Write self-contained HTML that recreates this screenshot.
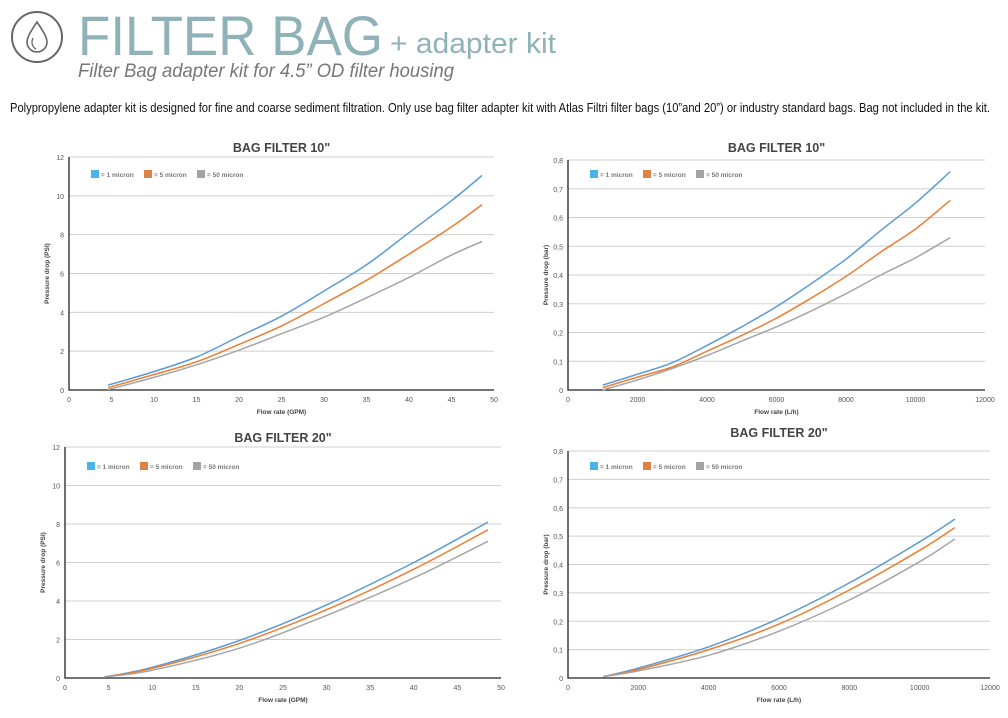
<!DOCTYPE html>
<html><head><meta charset="utf-8"><style>
html,body{margin:0;padding:0;background:#fff;}
svg{display:block;font-family:"Liberation Sans",sans-serif;}
</style></head><body>
<svg id="s" width="1008" height="718" viewBox="0 0 1008 718" xmlns="http://www.w3.org/2000/svg">
<g>
<circle cx="37" cy="37" r="25" fill="none" stroke="#666" stroke-width="2"/>
<path d="M37 22 C31 31 27 37 27 42 A10 10 0 0 0 47 42 C47 37 43 31 37 22 Z" fill="none" stroke="#666" stroke-width="1.6"/>
<path d="M33 38 C31 42 32 47 36 49" fill="none" stroke="#666" stroke-width="1.3"/>
</g>
<text x="78" y="55" font-size="56" fill="#8fb2b9" textLength="305" lengthAdjust="spacingAndGlyphs">FILTER BAG</text>
<text x="390" y="53" font-size="29" fill="#8fb2b9" textLength="166" lengthAdjust="spacingAndGlyphs">+ adapter kit</text>
<text x="78" y="77" font-size="19" font-style="italic" fill="#777" textLength="376" lengthAdjust="spacingAndGlyphs">Filter Bag adapter kit for 4.5” OD filter housing</text>
<text x="10" y="112" font-size="13" fill="#111" textLength="980" lengthAdjust="spacingAndGlyphs">Polypropylene adapter kit is designed for fine and coarse sediment filtration. Only use bag filter adapter kit with Atlas Filtri filter bags (10”and 20”) or industry standard bags. Bag not included in the kit.</text>
<g id="charts"></g>
</svg>
<script>
// Chart 1: 10" GPM
const c1x=[4.6,10,15,20,25,30,35,40,45,48.6];
const c1blue=[0.25,0.95,1.7,2.75,3.8,5.1,6.45,8.1,9.75,11.05];
const c1orange=[0.12,0.8,1.45,2.35,3.3,4.45,5.65,7.0,8.4,9.55];
const c1gray=[0.02,0.65,1.3,2.05,2.9,3.75,4.75,5.8,6.95,7.65];
// Chart 2: 10" L/h
const c2x=[1000,2000,3000,4000,5000,6000,7000,8000,9000,10000,11000];
const c2blue=[0.017,0.055,0.095,0.155,0.22,0.29,0.37,0.455,0.555,0.65,0.76];
const c2orange=[0.008,0.045,0.08,0.135,0.19,0.25,0.32,0.395,0.48,0.56,0.66];
const c2gray=[0.0,0.035,0.075,0.12,0.17,0.22,0.275,0.335,0.4,0.46,0.53];
// Chart 3: 20" GPM
const c3x=[4.5,10,20,30,40,48.5];
const c3blue=[0.05,0.55,1.95,3.8,6.0,8.1];
const c3orange=[0.05,0.5,1.8,3.55,5.65,7.7];
const c3gray=[0.05,0.4,1.55,3.25,5.2,7.1];
// Chart 4: 20" L/h
const c4x=[1000,2000,4000,6000,8000,10000,11000];
const c4blue=[0.005,0.035,0.11,0.21,0.335,0.48,0.56];
const c4orange=[0.005,0.03,0.10,0.19,0.31,0.45,0.53];
const c4gray=[0.005,0.025,0.08,0.165,0.275,0.41,0.49];
const gpmTicks=[0,5,10,15,20,25,30,35,40,45,50];
const psiTicks=[0,2,4,6,8,10,12];
const lhTicks=[0,2000,4000,6000,8000,10000,12000];
const barTicks=[0,0.1,0.2,0.3,0.4,0.5,0.6,0.7,0.8];
const seriesNames=["= 1 micron","= 5 micron","= 50 micron"];
const NS="http://www.w3.org/2000/svg";
const root=document.getElementById('charts');
function mk(tag,attrs,parent,text){const e=document.createElementNS(NS,tag);for(const k in attrs)e.setAttribute(k,attrs[k]);if(text!==undefined)e.textContent=text;parent.appendChild(e);return e;}
function path(pts){let d='M'+pts[0][0].toFixed(1)+' '+pts[0][1].toFixed(1);for(let i=0;i<pts.length-1;i++){const p0=pts[i-1]||pts[i],p1=pts[i],p2=pts[i+1],p3=pts[i+2]||p2;const a=[p1[0]+(p2[0]-p0[0])/6,p1[1]+(p2[1]-p0[1])/6],b=[p2[0]-(p3[0]-p1[0])/6,p2[1]-(p3[1]-p1[1])/6];d+=' C'+a[0].toFixed(1)+' '+a[1].toFixed(1)+' '+b[0].toFixed(1)+' '+b[1].toFixed(1)+' '+p2[0].toFixed(1)+' '+p2[1].toFixed(1);}return d;}
function chart(o){
 const g=mk('g',{},root);
 
 
 const xmax=o.xt[o.xt.length-1],ymax=o.yt[o.yt.length-1];
 const X=v=>o.x0+(o.x1-o.x0)*v/xmax, Y=v=>o.y0-(o.y0-o.y1)*v/ymax;
 o.yt.forEach((t,i)=>{ if(i>0){const l=mk('line',{x1:o.x0,x2:o.x1,y1:Y(t),y2:Y(t),stroke:'#cfcfcf','stroke-width':1},g);}
  const tx=mk('text',{x:o.x0-5,y:Y(t)+3,'font-size':7,fill:'#555','text-anchor':'end'},g,o.yf(t));});
 o.xt.forEach(t=>{const tx=mk('text',{x:X(t),y:o.y0+12,'font-size':7,fill:'#555','text-anchor':'middle'},g,String(t));});
 const ax=mk('path',{d:`M${o.x0} ${o.y1} V${o.y0} H${o.x1}`,fill:'none',stroke:'#222','stroke-width':1.3},g);
 const cols=['#5b9bd5','#ed7d31','#a5a5a5'];
 o.s.forEach((ys,i)=>{const p=mk('path',{d:path(o.x.map((v,j)=>[X(v),Y(ys[j])])),fill:'none',stroke:cols[i],'stroke-width':1.5},g);});
 const t=mk('text',{x:(o.x0+o.x1)/2,y:o.ty,'font-size':12.5,'font-weight':'bold',fill:'#444','text-anchor':'middle'},g,o.title);
 const xt=mk('text',{x:(o.x0+o.x1)/2,y:o.y0+24,'font-size':6.5,'font-weight':'bold',fill:'#444','text-anchor':'middle'},g,o.xl);
 const yx=o.x0-20,yy=(o.y0+o.y1)/2;
 const yt=mk('text',{x:yx,y:yy,'font-size':6.5,'font-weight':'bold',fill:'#444','text-anchor':'middle',transform:`rotate(-90 ${yx} ${yy})`},g,o.yl);
 const lc=['#4ab3e8','#dd8347','#a3a3a3'];
 seriesNames.forEach((n,i)=>{const lx=o.x0+22+i*53,ly=o.ly;const lg=mk('g',{},g);
  mk('rect',{x:lx,y:ly,width:8,height:8,fill:lc[i]},lg);mk('text',{x:lx+10,y:ly+7,'font-size':6.5,'font-weight':'bold',fill:'#777'},lg,n);});
}
const fc=v=>String(v).replace('.',',');
chart({name:'chart-10in-gpm',x0:69,x1:494,y0:390,y1:157,ty:152,ly:170,x:c1x,s:[c1blue,c1orange,c1gray],xt:gpmTicks,yt:psiTicks,yf:String,title:'BAG FILTER 10"',xl:'Flow rate (GPM)',yl:'Pressure drop (PSI)'});
chart({name:'chart-10in-lh',x0:568,x1:985,y0:390,y1:160,ty:152,ly:170,x:c2x,s:[c2blue,c2orange,c2gray],xt:lhTicks,yt:barTicks,yf:fc,title:'BAG FILTER 10"',xl:'Flow rate (L/h)',yl:'Pressure drop (bar)'});
chart({name:'chart-20in-gpm',x0:65,x1:501,y0:678,y1:447,ty:442,ly:462,x:c3x,s:[c3blue,c3orange,c3gray],xt:gpmTicks,yt:psiTicks,yf:String,title:'BAG FILTER 20"',xl:'Flow rate (GPM)',yl:'Pressure drop (PSI)'});
chart({name:'chart-20in-lh',x0:568,x1:990,y0:678,y1:451,ty:437,ly:462,x:c4x,s:[c4blue,c4orange,c4gray],xt:lhTicks,yt:barTicks,yf:fc,title:'BAG FILTER 20"',xl:'Flow rate (L/h)',yl:'Pressure drop (bar)'});
</script>
</body></html>
